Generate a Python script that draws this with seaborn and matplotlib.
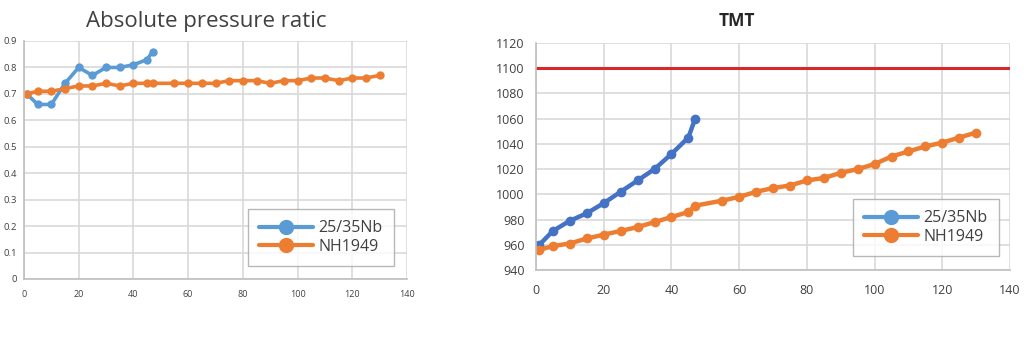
import matplotlib
matplotlib.use("Agg")
import matplotlib.pyplot as plt
from matplotlib.lines import Line2D
import pandas as pd
import seaborn as sns

# ---- data ----
nb_x = [1, 5, 10, 15, 20, 25, 30, 35, 40, 45, 47]
nb_ratio = [0.70, 0.66, 0.66, 0.74, 0.80, 0.77, 0.80, 0.80, 0.81, 0.83, 0.86]
nb_tmt = [960, 971, 979, 985, 993, 1002, 1011, 1020, 1032, 1045, 1060]

nh_x = [1, 5, 10, 15, 20, 25, 30, 35, 40, 45, 47, 55, 60, 65, 70, 75, 80,
        85, 90, 95, 100, 105, 110, 115, 120, 125, 130]
nh_ratio = [0.70, 0.71, 0.71, 0.72, 0.73, 0.73, 0.74, 0.73, 0.74, 0.74, 0.74,
            0.74, 0.74, 0.74, 0.74, 0.75, 0.75, 0.75, 0.74, 0.75, 0.75, 0.76,
            0.76, 0.75, 0.76, 0.76, 0.77]
nh_tmt = [956, 959, 961, 965, 968, 971, 974, 978, 982, 986, 991, 995, 998,
          1002, 1005, 1007, 1011, 1013, 1017, 1020, 1024, 1030, 1034, 1038,
          1041, 1045, 1049]

tmt_limit = 1100
series_names = ["25/35Nb", "NH1949"]

x_ticks = [0, 20, 40, 60, 80, 100, 120, 140]
ratio_ticks = [0, 0.1, 0.2, 0.3, 0.4, 0.5, 0.6, 0.7, 0.8, 0.9]
ratio_labels = ["0", "0.1", "0.2", "0.3", "0.4", "0.5", "0.6", "0.7", "0.8", "0.9"]
tmt_ticks = [940, 960, 980, 1000, 1020, 1040, 1060, 1080, 1100, 1120]

# ---- tidy frames ----
df_ratio = pd.concat([
    pd.DataFrame({"x": nb_x, "y": nb_ratio, "series": series_names[0]}),
    pd.DataFrame({"x": nh_x, "y": nh_ratio, "series": series_names[1]}),
])
df_tmt = pd.concat([
    pd.DataFrame({"x": nb_x, "y": nb_tmt, "series": series_names[0]}),
    pd.DataFrame({"x": nh_x, "y": nh_tmt, "series": series_names[1]}),
])

sns.set_style("white")
plt.rcParams["font.family"] = ["Open Sans", "DejaVu Sans"]

BLUE = "#5B9BD5"
DARK_BLUE = "#4472C4"
ORANGE = "#ED7D31"
GRID = "#D9D9D9"
AXIS = "#BFBFBF"
TEXT = "#404040"

fig = plt.figure(figsize=(10.30, 3.49), dpi=100)
ax1 = fig.add_axes([24 / 1030, 70 / 349, 383 / 1030, 238 / 349])
ax2 = fig.add_axes([536 / 1030, 79 / 349, 474 / 1030, 227 / 349])


def style_axes(ax, yticks, xfs, yfs, xpad, ypad):
    ax.set_xlim(0, 140)
    ax.set_xticks(x_ticks)
    ax.set_yticks(yticks)
    ax.set_ylim(yticks[0], yticks[-1])
    ax.grid(True, color=GRID, linewidth=1.2)
    ax.set_axisbelow(True)
    for side in ("top", "right"):
        ax.spines[side].set_visible(False)
    for side in ("left", "bottom"):
        ax.spines[side].set_color(AXIS)
        ax.spines[side].set_linewidth(1.2)
    ax.tick_params(axis="x", length=0, labelsize=xfs, colors=TEXT, pad=xpad)
    ax.tick_params(axis="y", length=0, labelsize=yfs, colors=TEXT, pad=ypad)
    ax.set_xlabel("")
    ax.set_ylabel("")


def add_legend(ax, x_px, y_px):
    handles = [Line2D([], [], color=c, marker="o", markersize=10, linewidth=3)
               for c in (BLUE, ORANGE)]
    ax.legend(handles, series_names, loc="upper left",
              bbox_to_anchor=(x_px / 1030, 1 - y_px / 349),
              bbox_transform=fig.transFigure, borderaxespad=0,
              fontsize=11.5, frameon=True, fancybox=False,
              edgecolor="#A6A6A6", handlelength=3.4, handletextpad=0.3,
              labelspacing=0.15, borderpad=0.7, labelcolor=TEXT)


# ---- left: absolute pressure ratio ----
sns.lineplot(data=df_ratio, x="x", y="y", hue="series",
             palette=[BLUE, ORANGE], marker="o", markersize=6,
             markeredgewidth=0, linewidth=2.6, ax=ax1, legend=False)
style_axes(ax1, ratio_ticks, 6.5, 6.8, 8, 5)
ax1.set_yticklabels(ratio_labels)
fig.text(206 / 1030, 1 - 21 / 349, "Absolute pressure ratic", ha="center",
         va="center", fontsize=16, color=TEXT)
add_legend(ax1, 248, 209)

# ---- right: TMT ----
sns.lineplot(data=df_tmt, x="x", y="y", hue="series",
             palette=[DARK_BLUE, ORANGE], marker="o", markersize=7,
             markeredgewidth=0, linewidth=3.2, ax=ax2, legend=False)
ax2.axhline(tmt_limit, color="#D62A2A", linewidth=2.2, zorder=1.5)
style_axes(ax2, tmt_ticks, 9, 9, 10, 8)
fig.text(737 / 1030, 1 - 21 / 349, "TMT", ha="center", va="center",
         fontsize=12.5, fontweight="bold", color="#262626")
add_legend(ax2, 853, 199)

fig.savefig("out.png", dpi=100, facecolor="white")
